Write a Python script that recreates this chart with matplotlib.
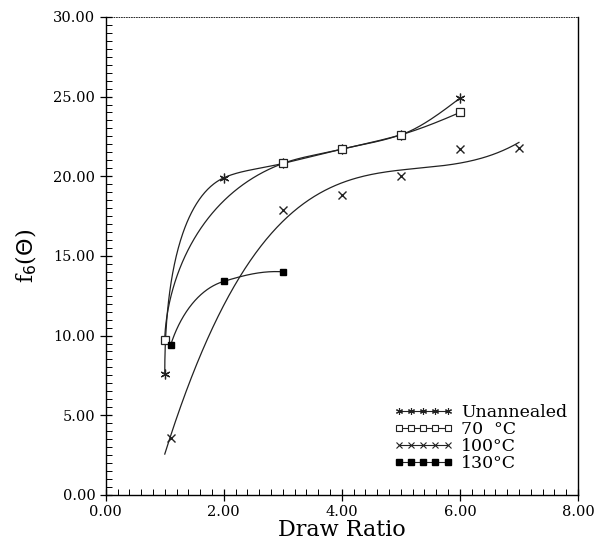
import numpy as np
import matplotlib
matplotlib.use('Agg')
import matplotlib.pyplot as plt
from matplotlib.ticker import MultipleLocator, FormatStrFormatter

# data
x_unann = [1.0, 2.0, 3.0, 4.0, 5.0, 6.0]
y_unann = [7.6, 19.9, 20.8, 21.7, 22.6, 24.9]

x_70 = [1.0, 3.0, 4.0, 5.0, 6.0]
y_70 = [9.7, 20.8, 21.7, 22.6, 24.0]

x_100 = [1.1, 3.0, 4.0, 5.0, 6.0, 7.0]
y_100 = [3.6, 17.9, 18.8, 20.0, 21.7, 21.8]

x_130 = [1.1, 2.0, 3.0]
y_130 = [9.4, 13.4, 14.0]

labels = ['Unannealed', '70  \u00b0C', '100\u00b0C', '130\u00b0C']


def pchip(x, y, n=300):
    # monotone cubic interpolation through the points
    x = np.asarray(x, float)
    y = np.asarray(y, float)
    h = np.diff(x)
    d = np.diff(y) / h
    m = np.zeros_like(y)
    for i in range(1, len(x) - 1):
        if d[i - 1] * d[i] > 0:
            w1 = 2 * h[i] + h[i - 1]
            w2 = h[i] + 2 * h[i - 1]
            m[i] = (w1 + w2) / (w1 / d[i - 1] + w2 / d[i])
    m[0] = ((2 * h[0] + h[1]) * d[0] - h[0] * d[1]) / (h[0] + h[1])
    m[-1] = ((2 * h[-1] + h[-2]) * d[-1] - h[-1] * d[-2]) / (h[-1] + h[-2])
    xs = np.linspace(x[0], x[-1], n)
    idx = np.clip(np.searchsorted(x, xs) - 1, 0, len(x) - 2)
    t = (xs - x[idx]) / h[idx]
    h00 = 2 * t**3 - 3 * t**2 + 1
    h10 = t**3 - 2 * t**2 + t
    h01 = -2 * t**3 + 3 * t**2
    h11 = t**3 - t**2
    ys = h00 * y[idx] + h10 * h[idx] * m[idx] + h01 * y[idx + 1] + h11 * h[idx] * m[idx + 1]
    return xs, ys


def smooth(x, y, p=0.55):
    # interpolate on a warped draw ratio so the curves rise steeply at DR~1
    u = (np.asarray(x, float) - 1.0) ** p
    us, ys = pchip(u, y)
    return us ** (1.0 / p) + 1.0, ys


plt.rcParams['font.family'] = ['DejaVu Serif']
fig = plt.figure(figsize=(5.94, 5.45), dpi=100)
ax = fig.add_axes([0.178, 0.092, 0.795, 0.877])

lc = '#222222'
# fitted curves
xs, ys = smooth(x_unann, y_unann, 0.5)
ax.plot(xs, ys, color=lc, lw=0.9)
xs, ys = smooth(x_70, y_70, 0.6)
ax.plot(xs, ys, color=lc, lw=0.9)
coef = np.polyfit(x_100, y_100, 3)
xs = np.linspace(1.0, 7.0, 200)
ax.plot(xs, np.polyval(coef, xs), color=lc, lw=0.9)
xs, ys = smooth(x_130, y_130, 0.6)
ax.plot(xs, ys, color=lc, lw=0.9)

# markers
ax.plot(x_unann, y_unann, ls='none', marker=(6, 2, 0), ms=7, mew=0.9, color=lc)
ax.plot(x_70, y_70, ls='none', marker='s', ms=6, mfc='white', mec=lc, mew=0.9)
ax.plot(x_100, y_100, ls='none', marker='x', ms=6, mew=1.0, color=lc)
ax.plot(x_130, y_130, ls='none', marker='s', ms=5, color='black')

# legend handles
h1, = ax.plot([], [], color=lc, lw=0.8, marker=(6, 2, 0), ms=5, mew=0.8)
h2, = ax.plot([], [], color=lc, lw=0.8, marker='s', ms=5, mfc='white', mec=lc, mew=0.8)
h3, = ax.plot([], [], color=lc, lw=0.8, marker='x', ms=4, mew=0.8)
h4, = ax.plot([], [], color=lc, lw=0.8, marker='s', ms=4, mfc='black', mec='black')
ax.legend([h1, h2, h3, h4], labels, loc='lower right', bbox_to_anchor=(1.0, 0.025),
          numpoints=5, handlelength=3.4, handletextpad=0.5, labelspacing=0.0,
          frameon=False, fontsize=12.5, borderpad=0.1)

ax.set_xlim(0, 8)
ax.set_ylim(0, 30)
ax.xaxis.set_major_locator(MultipleLocator(2))
ax.xaxis.set_minor_locator(MultipleLocator(0.2))
ax.yaxis.set_major_locator(MultipleLocator(5))
ax.yaxis.set_minor_locator(MultipleLocator(0.5))
ax.xaxis.set_major_formatter(FormatStrFormatter('%.2f'))
ax.yaxis.set_major_formatter(FormatStrFormatter('%.2f'))
ax.tick_params(which='major', direction='inout', length=8, width=0.9, labelsize=10.5)
ax.tick_params(which='minor', direction='in', length=4, width=0.7)
ax.tick_params(which='both', top=False, right=False)
for s in ['left', 'bottom', 'right']:
    ax.spines[s].set_linewidth(1.0)
ax.spines['top'].set_linewidth(0.6)
ax.spines['top'].set_linestyle((0, (1, 2)))

ax.set_xlabel('Draw Ratio', fontsize=16, labelpad=0)
ax.set_ylabel(r'f$_6$($\Theta$)', fontsize=16, labelpad=10)

fig.savefig('out.png', dpi=100)
